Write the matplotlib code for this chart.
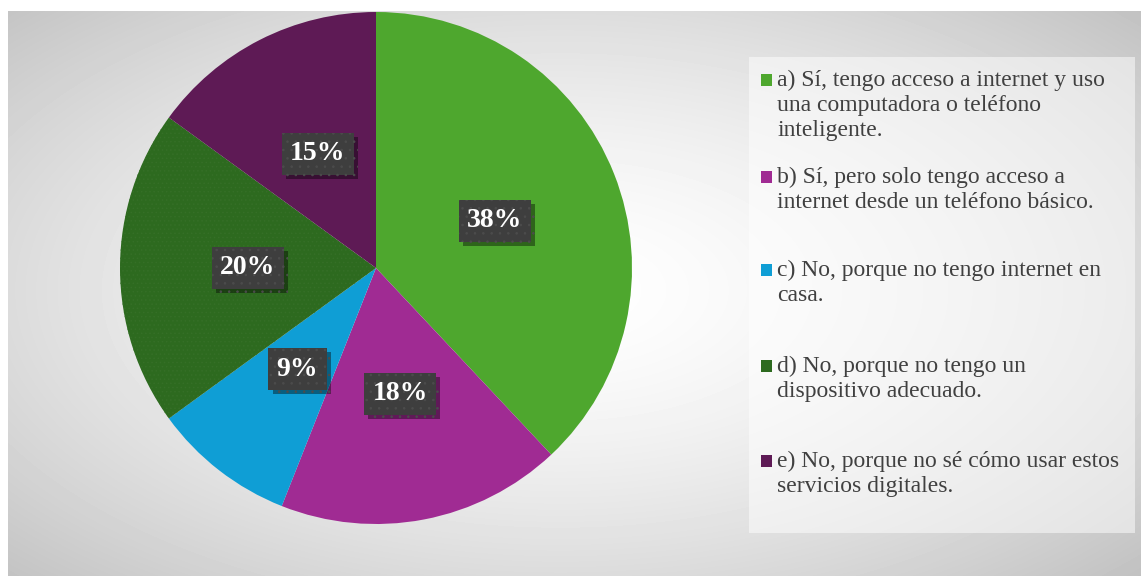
import numpy as np
import matplotlib
matplotlib.use('Agg')
import matplotlib.pyplot as plt
import matplotlib.patches as mpatches
import matplotlib.patheffects as pe

# respuestas de la encuesta (porcentaje)
etiquetas = [
    'a) Sí, tengo acceso a internet y uso\nuna computadora o teléfono\ninteligente.',
    'b) Sí, pero solo tengo acceso a\ninternet desde un teléfono básico.',
    'c) No, porque no tengo internet en\ncasa.',
    'd) No, porque no tengo un\ndispositivo adecuado.',
    'e) No, porque no sé cómo usar estos\nservicios digitales.',
]
valores = [38, 18, 9, 20, 15]
colores = ['#4ea72e', '#a02b93', '#0f9ed5', '#2d6a1f', '#5e1a55']

W, H = 1141, 576
plt.rcParams['font.family'] = ['Liberation Serif', 'DejaVu Serif']
plt.rcParams['hatch.linewidth'] = 0.6


def fx(px):
    return px / W


def fy(py):
    return 1 - py / H


fig = plt.figure(figsize=(W / 100, H / 100), dpi=100, facecolor='white')

# fondo con degradado radial
bg = fig.add_axes([fx(8), 0, 1 - fx(8), 1 - 11 / H], zorder=0)
xx, yy = np.meshgrid(np.arange(8, W), np.arange(11, H))
t = np.sqrt(((xx - 560) / 580.0) ** 2 + ((yy - 290) / 300.0) ** 2)
gris = 1 - 0.15 * t ** 1.5
bg.imshow(gris, cmap='gray', vmin=0, vmax=1, aspect='auto', interpolation='bilinear')
bg.axis('off')

# pastel
R = 256
cx, cy = 376, 268
ax = fig.add_axes([fx(cx - R), (H - cy - R) / H, 2 * R / W, 2 * R / H], zorder=1)
wedges, textos, pcts = ax.pie(valores, colors=colores, startangle=90, counterclock=False,
                              autopct=lambda p: f'{p:.0f}%', pctdistance=0.5,
                              wedgeprops=dict(linewidth=0))
ax.set_xlim(-1, 1)
ax.set_ylim(-1, 1)
ax.set_aspect('equal')

# textura sutil del sector verde oscuro
wedges[3].set_edgecolor('#356f27')
wedges[3].set_hatch('....')
wedges[3].set_linewidth(0)

for p in pcts:
    p.set_fontsize(20)
    p.set_fontweight('bold')
    p.set_color('white')
    p.set_zorder(5)
    p.set_bbox(dict(boxstyle='square,pad=0.3', fc='#3e3e3e', ec='#4c4c4c', lw=0, hatch='..'))
    p.get_bbox_patch().set_path_effects([
        pe.SimplePatchShadow(offset=(3, -3), shadow_rgbFace='black', alpha=0.4),
        pe.Normal()])

# leyenda
caja = mpatches.Rectangle((fx(749), fy(533)), fx(1135) - fx(749), fy(57) - fy(533),
                          transform=fig.transFigure, fc='white', ec='none', alpha=0.5, zorder=2)
fig.add_artist(caja)

y_items = [80, 177, 270, 366, 461]
for etiqueta, color, yi in zip(etiquetas, colores, y_items):
    fig.add_artist(mpatches.Rectangle((fx(761), fy(yi + 6)), 11 / W, 12 / H,
                                      transform=fig.transFigure, fc=color, ec='none', zorder=3))
    fig.text(fx(777), fy(yi - 10), etiqueta, ha='left', va='top', fontsize=17,
             color='#404040', linespacing=1.24, zorder=3)

fig.savefig('out.png', dpi=100, facecolor='white')
